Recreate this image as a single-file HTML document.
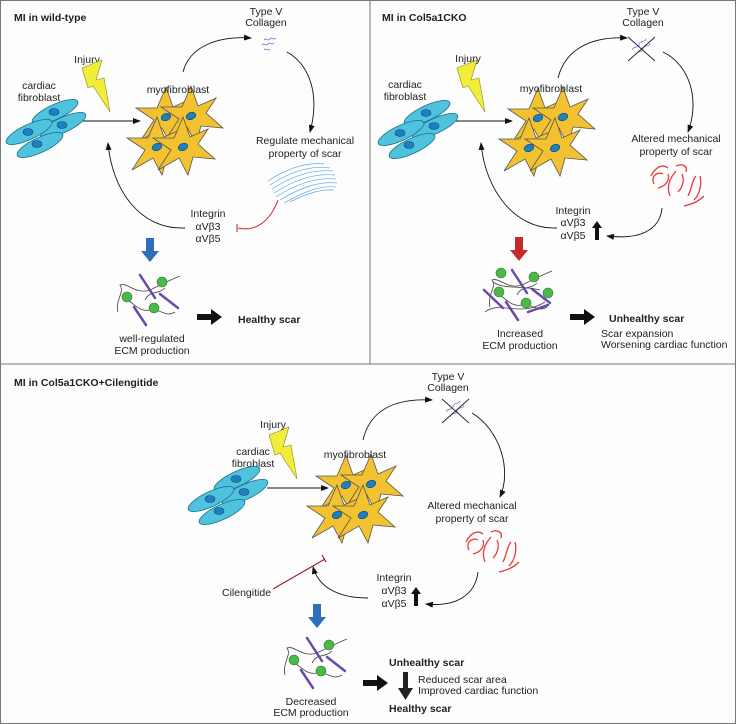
<!DOCTYPE html>
<html><head><meta charset="utf-8"><style>
html,body{margin:0;padding:0;background:#fff}
svg{display:block;font-family:"Liberation Sans",sans-serif}
text{font-size:10.5px;fill:#222}
.b{font-weight:bold}
</style></head><body>
<svg width="736" height="724" viewBox="0 0 736 724" xmlns="http://www.w3.org/2000/svg">
<defs>
<marker id="ah" markerWidth="8" markerHeight="8" refX="7" refY="4" orient="auto" markerUnits="userSpaceOnUse"><path d="M0,1 L8,4 L0,7 Z" fill="#111"/></marker>
<g id="fib">
 <g fill="#4fc3de" stroke="#1b6f8a" stroke-width="0.8">
  <ellipse cx="55" cy="112" rx="25" ry="7.5" transform="rotate(-25 55 112)"/>
  <ellipse cx="63" cy="125" rx="25" ry="7.5" transform="rotate(-25 63 125)"/>
  <ellipse cx="29" cy="132" rx="25" ry="7.5" transform="rotate(-25 29 132)"/>
  <ellipse cx="40" cy="145" rx="25" ry="7.5" transform="rotate(-25 40 145)"/>
 </g>
 <g fill="#1f7fc0" stroke="#0e4a70" stroke-width="0.6">
  <ellipse cx="54" cy="112" rx="5" ry="3.5"/><ellipse cx="62" cy="125" rx="5" ry="3.5"/>
  <ellipse cx="28" cy="132" rx="5" ry="3.5"/><ellipse cx="37" cy="144" rx="5" ry="3.5"/>
 </g>
</g>
<g id="star">
 <path d="M0,-30 L7,-10 L25,-18 L15,-3 L32,12 L10,10 L5,28 L-4,11 L-25,23 L-12,3 L-30,-9 L-9,-9 Z" fill="#f2c230" stroke="#555" stroke-width="0.8"/>
 <ellipse cx="0" cy="0" rx="5" ry="3.5" fill="#1f7fc0" stroke="#0e4a70" stroke-width="0.6" transform="rotate(-20)"/>
</g>
<g id="myo">
 <use href="#star" x="166" y="117"/><use href="#star" x="191" y="116"/>
 <use href="#star" x="157" y="147"/><use href="#star" x="183" y="147"/>
</g>
<path id="bolt" d="M82,68 L102,60 L96,80 L104,78 L110,112 L93,86 L88,88 Z" fill="#f2ec3a" stroke="#8a8a20" stroke-width="0.6"/>
<g id="ecm">
 <g fill="none" stroke="#444" stroke-width="0.8">
  <path d="M118,312 C115,300 125,292 120,285 C128,282 135,295 150,290 C160,285 170,280 180,276"/>
  <path d="M128,300 C135,305 140,312 150,310 C160,308 165,318 175,312"/>
  <path d="M145,300 C150,290 158,295 165,288"/>
 </g>
 <g stroke="#6a4aa8" stroke-width="2.5" stroke-linecap="round">
  <line x1="140" y1="275" x2="155" y2="298"/><line x1="160" y1="294" x2="178" y2="308"/><line x1="134" y1="307" x2="146" y2="325"/>
 </g>
 <g fill="#4cb848" stroke="#2b7a2b" stroke-width="0.6">
  <circle cx="162" cy="282" r="5"/><circle cx="127" cy="297" r="5"/><circle cx="154" cy="308" r="5"/>
 </g>
</g>
<g id="red">
 <g fill="none" stroke="#e83a3a" stroke-width="1.3">
  <path d="M3,10 C8,0 15,-2 20,2"/><path d="M6,18 C2,10 10,5 15,8"/><path d="M10,22 C18,20 22,14 20,8"/>
  <path d="M22,30 C18,20 22,12 28,5"/><path d="M28,0 C34,-3 40,0 38,6"/><path d="M30,26 C36,20 36,12 34,8"/>
  <path d="M40,30 C44,22 44,14 48,10"/><path d="M52,10 C54,18 52,28 46,34"/><path d="M36,40 C44,38 50,36 56,30"/>
 </g>
</g>
<g id="xcol">
 <path d="M-8,-4 c3,-3 6,3 9,0 c3,-3 6,3 9,0 M-8,2 c3,-3 6,3 9,0 c3,-3 6,3 9,0" fill="none" stroke="#8a70d0" stroke-width="0.8" transform="rotate(-40)"/>
 <line x1="-13" y1="-11" x2="14" y2="13" stroke="#222" stroke-width="0.9"/>
 <line x1="-13" y1="13" x2="14" y2="-11" stroke="#222" stroke-width="0.9"/>
</g>
</defs>
<rect x="0.5" y="0.5" width="735" height="723" fill="#fdfdfd" stroke="#777"/>
<line x1="370" y1="0" x2="370" y2="364" stroke="#777"/>
<line x1="0" y1="364" x2="736" y2="364" stroke="#777"/>

<!-- Panel 1 -->
<text x="14" y="21" class="b">MI in wild-type</text>
<text x="266" y="15" text-anchor="middle">Type V</text><text x="266" y="26" text-anchor="middle">Collagen</text>
<text x="87" y="63" text-anchor="middle">Injury</text>
<text x="39" y="89" text-anchor="middle">cardiac</text><text x="39" y="101" text-anchor="middle">fibroblast</text>
<use href="#bolt"/><use href="#fib"/><use href="#myo"/>
<text x="178" y="93" text-anchor="middle">myofibroblast</text>
<line x1="83" y1="121" x2="140" y2="121" stroke="#111" marker-end="url(#ah)"/>
<path d="M183,72 C190,45 220,36 251,38" fill="none" stroke="#111" stroke-width="0.9" marker-end="url(#ah)"/>
<path d="M264,40 c2,-3 4,2 6,-1 c2,-3 4,2 6,-1 M262,45 c2,-3 4,2 6,-1 c2,-3 4,2 6,-1 M264,50 c2,-3 4,2 6,-1" fill="none" stroke="#8a70d0" stroke-width="0.9"/>
<path d="M287,52 C310,65 320,95 310,132" fill="none" stroke="#111" stroke-width="0.9" marker-end="url(#ah)"/>
<text x="305" y="144" text-anchor="middle">Regulate mechanical</text><text x="305" y="157" text-anchor="middle">property of scar</text>
<g fill="none" stroke="#5aa8e8" stroke-width="0.7">
 <path d="M270,185 C290,172 310,165 330,168"/><path d="M272,189 C292,176 312,169 333,171"/><path d="M274,193 C294,180 314,173 335,175"/>
 <path d="M276,197 C296,184 316,177 336,179"/><path d="M280,200 C300,188 318,181 337,183"/><path d="M284,203 C304,192 320,185 336,187"/>
 <path d="M268,181 C288,168 306,162 324,164"/><path d="M290,202 C306,194 320,189 334,190"/>
</g>
<path d="M278,200 C270,222 255,232 238,228" fill="none" stroke="#c02828" stroke-width="1"/>
<line x1="237" y1="224" x2="237" y2="232" stroke="#c02828" stroke-width="1"/>
<text x="208" y="217" text-anchor="middle">Integrin</text><text x="208" y="230" text-anchor="middle">αVβ3</text><text x="208" y="242" text-anchor="middle">αVβ5</text>
<path d="M185,228 C140,230 112,190 108,143" fill="none" stroke="#111" stroke-width="0.9" marker-end="url(#ah)"/>
<path d="M146,238 h8 v13 h5 l-9,11 l-9,-11 h5 Z" fill="#2d6fb8"/>
<use href="#ecm"/>
<text x="152" y="342" text-anchor="middle">well-regulated</text><text x="152" y="354" text-anchor="middle">ECM production</text>
<path d="M197,314 h14 v-5 l11,8 l-11,8 v-5 h-14 Z" fill="#111"/>
<text x="238" y="323" class="b">Healthy scar</text>

<!-- Panel 2 -->
<text x="382" y="21" class="b">MI in Col5a1CKO</text>
<text x="643" y="15" text-anchor="middle">Type V</text><text x="643" y="26" text-anchor="middle">Collagen</text>
<g transform="translate(375,0)"><use href="#bolt"/></g>
<text x="468" y="62" text-anchor="middle">Injury</text>
<text x="405" y="88" text-anchor="middle">cardiac</text><text x="405" y="100" text-anchor="middle">fibroblast</text>
<g transform="translate(372,1)"><use href="#fib"/><use href="#myo"/></g>
<text x="551" y="92" text-anchor="middle">myofibroblast</text>
<line x1="456" y1="121" x2="512" y2="121" stroke="#111" marker-end="url(#ah)"/>
<path d="M558,78 C565,50 590,36 627,38" fill="none" stroke="#111" stroke-width="0.9" marker-end="url(#ah)"/>
<use href="#xcol" x="641" y="48"/>
<path d="M663,52 C690,65 700,100 688,132" fill="none" stroke="#111" stroke-width="0.9" marker-end="url(#ah)"/>
<text x="676" y="142" text-anchor="middle">Altered mechanical</text><text x="676" y="155" text-anchor="middle">property of scar</text>
<use href="#red" x="648" y="166"/>
<text x="573" y="214" text-anchor="middle">Integrin</text><text x="573" y="226" text-anchor="middle">αVβ3</text><text x="573" y="239" text-anchor="middle">αVβ5</text>
<path d="M595,240 h4 v-12 h3 l-5,-7 l-5,7 h3 Z" fill="#111"/>
<path d="M662,208 C660,230 640,240 607,236" fill="none" stroke="#111" stroke-width="0.9" marker-end="url(#ah)"/>
<path d="M557,228 C515,230 485,190 481,143" fill="none" stroke="#111" stroke-width="0.9" marker-end="url(#ah)"/>
<path d="M515,237 h8 v13 h5 l-9,11 l-9,-11 h5 Z" fill="#c42a2a"/>
<g transform="translate(372,-5)"><use href="#ecm"/></g>
<g fill="none" stroke="#444" stroke-width="0.8"><path d="M485,312 C500,300 520,318 545,302"/><path d="M493,282 C505,290 520,285 540,290"/></g>
<g stroke="#6a4aa8" stroke-width="2.5" stroke-linecap="round"><line x1="484" y1="290" x2="503" y2="308"/><line x1="528" y1="312" x2="548" y2="305"/></g>
<g fill="#4cb848" stroke="#2b7a2b" stroke-width="0.6"><circle cx="501" cy="273" r="5"/><circle cx="548" cy="293" r="5"/></g>
<text x="520" y="337" text-anchor="middle">Increased</text><text x="520" y="349" text-anchor="middle">ECM production</text>
<path d="M570,314 h14 v-5 l11,8 l-11,8 v-5 h-14 Z" fill="#111"/>
<text x="609" y="322" class="b">Unhealthy scar</text>
<text x="601" y="337">Scar expansion</text><text x="601" y="348">Worsening cardiac function</text>

<!-- Panel 3 -->
<text x="14" y="386" class="b">MI in Col5a1CKO+Cilengitide</text>
<text x="448" y="380" text-anchor="middle">Type V</text><text x="448" y="391" text-anchor="middle">Collagen</text>
<g transform="translate(187,367)"><use href="#bolt"/></g>
<text x="273" y="428" text-anchor="middle">Injury</text>
<text x="253" y="455" text-anchor="middle">cardiac</text><text x="253" y="467" text-anchor="middle">fibroblast</text>
<g transform="translate(182,367)"><use href="#fib"/></g>
<g transform="translate(180,368)"><use href="#myo"/></g>
<text x="355" y="458" text-anchor="middle">myofibroblast</text>
<line x1="267" y1="488" x2="328" y2="488" stroke="#111" marker-end="url(#ah)"/>
<path d="M363,440 C370,410 395,398 432,400" fill="none" stroke="#111" stroke-width="0.9" marker-end="url(#ah)"/>
<use href="#xcol" x="455" y="410"/>
<path d="M472,413 C500,430 512,470 500,497" fill="none" stroke="#111" stroke-width="0.9" marker-end="url(#ah)"/>
<text x="472" y="509" text-anchor="middle">Altered mechanical</text><text x="472" y="522" text-anchor="middle">property of scar</text>
<use href="#red" x="463" y="532"/>
<text x="394" y="581" text-anchor="middle">Integrin</text><text x="394" y="594" text-anchor="middle">αVβ3</text><text x="394" y="607" text-anchor="middle">αVβ5</text>
<path d="M414,606 h4 v-12 h3 l-5,-7 l-5,7 h3 Z" fill="#111"/>
<path d="M478,572 C475,596 455,607 426,604" fill="none" stroke="#111" stroke-width="0.9" marker-end="url(#ah)"/>
<path d="M368,598 C335,598 318,585 313,567" fill="none" stroke="#111" stroke-width="0.9" marker-end="url(#ah)"/>
<line x1="273" y1="589" x2="325" y2="559" stroke="#a02020" stroke-width="1.2"/>
<line x1="322" y1="555" x2="326" y2="562" stroke="#a02020" stroke-width="1.2"/>
<text x="222" y="596">Cilengitide</text>
<path d="M313,604 h8 v13 h5 l-9,11 l-9,-11 h5 Z" fill="#2d6fb8"/>
<g transform="translate(167,363)"><use href="#ecm"/></g>
<text x="311" y="705" text-anchor="middle">Decreased</text><text x="311" y="716" text-anchor="middle">ECM production</text>
<path d="M363,680 h14 v-5 l11,8 l-11,8 v-5 h-14 Z" fill="#111"/>
<text x="389" y="666" class="b">Unhealthy scar</text>
<path d="M403,672 h5 v16 h5 l-7.5,12 l-7.5,-12 h5 Z" fill="#222"/>
<text x="418" y="683">Reduced scar area</text><text x="418" y="694">Improved cardiac function</text>
<text x="389" y="712" class="b">Healthy scar</text>
</svg>
</body></html>
